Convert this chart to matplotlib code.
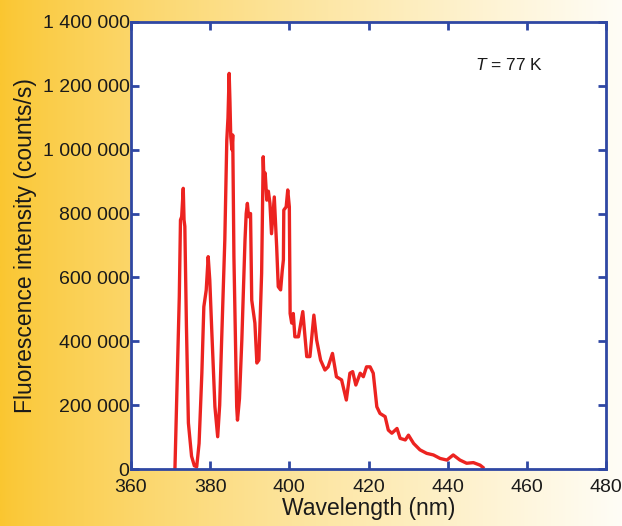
import matplotlib
matplotlib.use("Agg")
import matplotlib.pyplot as plt
import numpy as np
from matplotlib.ticker import FuncFormatter

plt.rcParams['font.family'] = ['Liberation Sans', 'DejaVu Sans']
plt.rcParams['mathtext.fontset'] = 'custom'
plt.rcParams['mathtext.it'] = 'Liberation Sans:italic'
plt.rcParams['mathtext.rm'] = 'Liberation Sans'

# spectrum (nm, counts/s)
wavelength = [371.1, 372.2, 372.5, 372.8, 373.2, 373.4, 373.6, 374.0, 374.5, 375.3,
              376.0, 376.6, 377.2, 377.9, 378.4, 379.0, 379.5, 379.9, 380.4, 381.2,
              381.9, 382.4, 382.9, 383.7, 384.2, 384.5, 384.8, 385.0, 385.2, 385.5,
              385.7, 386.0, 386.7, 386.9, 387.4, 388.0, 388.8, 389.1, 389.4, 389.7,
              389.9, 390.2, 390.5, 391.3, 391.8, 392.3, 393.0, 393.4, 393.6, 393.9,
              394.3, 394.7, 395.1, 395.5, 396.2, 396.8, 397.2, 397.8, 398.2, 398.5,
              398.6, 399.2, 399.6, 400.0, 400.2, 400.6, 401.0, 401.4, 402.3, 403.4,
              404.4, 405.2, 406.2, 406.9, 407.9, 409.0, 409.8, 410.9, 411.9, 413.2,
              414.4, 415.3, 416.0, 416.8, 417.9, 418.7, 419.5, 420.4, 421.2, 422.1,
              422.9, 424.2, 425.0, 425.9, 427.2, 428.0, 429.3, 430.1, 431.4, 433.0,
              434.7, 436.4, 438.1, 439.8, 441.4, 443.1, 444.8, 446.5, 448.2, 448.9]
intensity_k = [0, 540, 780, 790, 879, 780, 760, 450, 144, 40,
               10, 7, 80, 300, 508, 560, 665, 592, 435, 195,
               101, 200, 404, 717, 1030, 1100, 1239, 1150, 1041, 1000,
               1046, 665, 195, 153, 220, 404, 717, 800, 832, 790,
               800, 800, 529, 457, 332, 341, 613, 978, 900, 927,
               842, 870, 832, 737, 852, 696, 571, 561, 620, 655,
               811, 821, 874, 821, 487, 457, 487, 414, 414, 493,
               352, 352, 482, 404, 341, 310, 320, 362, 289, 279,
               216, 300, 305, 263, 300, 289, 320, 320, 300, 195,
               174, 164, 122, 112, 127, 96, 91, 106, 80, 60,
               49, 44, 33, 28, 44, 28, 18, 20, 12, 5]
intensity = [v * 1000 for v in intensity_k]

x_ticks = [360, 380, 400, 420, 440, 460, 480]
y_ticks = [0, 200000, 400000, 600000, 800000, 1000000, 1200000, 1400000]

frame_blue = '#2f47a3'
line_red = '#ec2320'

fig = plt.figure(figsize=(6.22, 5.26), dpi=100)

# orange-to-white background
bg = fig.add_axes([0, 0, 1, 1], zorder=-1)
grad = np.linspace(0, 1, 256)
left_c = np.array([250, 198, 48]) / 255
right_c = np.array([255, 253, 246]) / 255
cols = left_c[None, :] * (1 - grad[:, None] ** 0.8) + right_c[None, :] * grad[:, None] ** 0.8
bg.imshow(cols[None, :, :], aspect='auto', extent=[0, 1, 0, 1])
bg.axis('off')

ax = fig.add_axes([131 / 622, 57 / 526, 475 / 622, 447 / 526])
ax.set_facecolor('white')
ax.plot(wavelength, intensity, color=line_red, lw=2.4, solid_joinstyle='round')

ax.set_xlim(360, 480)
ax.set_ylim(0, 1400000)
ax.set_xticks(x_ticks)
ax.set_yticks(y_ticks)
ax.yaxis.set_major_formatter(FuncFormatter(lambda v, p: '{:,}'.format(int(v)).replace(',', ' ')))

for s in ax.spines.values():
    s.set_color(frame_blue)
    s.set_linewidth(2)
ax.tick_params(direction='in', length=6, width=2, color=frame_blue,
               top=True, right=True, labelsize=14, labelcolor='#1a1a1a')
ax.tick_params(axis='y', pad=1)
ax.tick_params(axis='x', pad=7)

ax.set_xlabel('Wavelength (nm)', fontsize=16.5, labelpad=1, color='#1a1a1a')
ax.set_ylabel('Fluorescence intensity (counts/s)', fontsize=16.5, labelpad=4, color='#1a1a1a')

ax.text(446.8, 1265000, '$T$ = 77 K', fontsize=12.5, va='center', ha='left', color='#1a1a1a')

fig.savefig('out.png', dpi=100)
